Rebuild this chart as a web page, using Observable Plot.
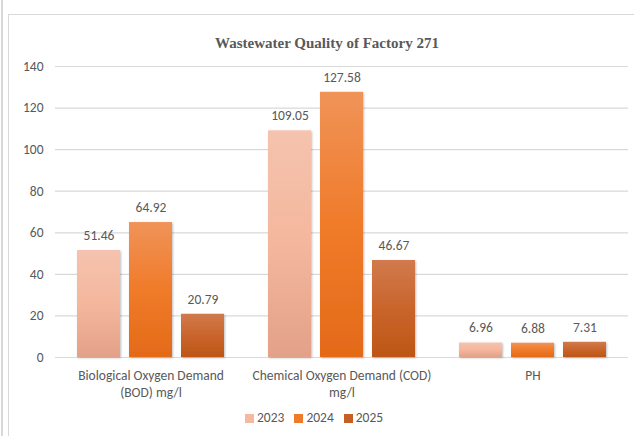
<!DOCTYPE html>
<html>
<head>
<meta charset="utf-8">
<script src="https://cdn.jsdelivr.net/npm/d3@7"></script>
<script src="https://cdn.jsdelivr.net/npm/@observablehq/plot@0.6"></script>
<style>
  html, body { margin: 0; padding: 0; background: #fff; }
  #wrap { position: relative; width: 634px; height: 436px; overflow: hidden; font-family: Carlito, Lato, "Open Sans", sans-serif; color: #595959; }
  #chart { position: absolute; left: 0; top: 0; }
  .vline { position: absolute; left: 1px; top: 0; width: 1.5px; height: 436px; background: #d9d9d9; }
  .box { position: absolute; left: 8px; top: 14px; width: 700px; height: 600px; border-top: 1.5px solid #d9d9d9; border-left: 1.5px solid #d9d9d9; }
  #title { position: absolute; left: 0; width: 654px; top: 35px; text-align: center; font-family: "Liberation Serif", "Times New Roman", serif; font-weight: bold; font-size: 15px; line-height: 16px; color: #595959; }
  #legend { position: absolute; left: 245px; top: 410px; display: flex; align-items: center; font-size: 13.5px; line-height: 16px; color: #595959; }
  #legend .item { display: flex; align-items: center; margin-right: 10px; }
  #legend .sw { width: 9px; height: 9px; margin-right: 3px; }
</style>
</head>
<body>
<div id="wrap">
  <div class="vline"></div>
  <div class="box"></div>
  <div id="chart"></div>
  <div id="title">Wastewater Quality of Factory 271</div>
  <div id="legend"></div>
</div>
<script>
const categories = ["BOD", "COD", "PH"];
const categoryLabels = ["Biological Oxygen Demand\n(BOD) mg/l", "Chemical Oxygen Demand (COD)\nmg/l", "PH"];
const years = ["2023", "2024", "2025"];
const values2023 = [51.46, 109.05, 6.96];
const values2024 = [64.92, 127.58, 6.88];
const values2025 = [20.79, 46.67, 7.31];
const yTicks = [0, 20, 40, 60, 80, 100, 120, 140];

const gradients = {
  "2023": ["#F5C3AE", "#F4B79D", "#E2A188"],
  "2024": ["#F09358", "#F07B2A", "#E36A18"],
  "2025": ["#D17A4D", "#C9652C", "#BD5616"]
};
const legendColors = {"2023": "#F4B9A0", "2024": "#EF7A2A", "2025": "#C65F24"};

const series = [values2023, values2024, values2025];
const data = [];
categories.forEach((c, i) => {
  years.forEach((y, j) => data.push({category: c, year: y, value: series[j][i]}));
});

const plot = Plot.plot({
  width: 634,
  height: 436,
  marginLeft: 55,
  marginRight: 6,
  marginTop: 66,
  marginBottom: 79,
  style: {fontFamily: "Carlito, Lato, 'Open Sans', sans-serif", fontSize: "13px", color: "#595959", background: "transparent", overflow: "visible"},
  fx: {domain: categories, padding: 0, label: null, axis: null},
  x: {domain: years, paddingInner: 0.17, paddingOuter: 0.39, axis: null},
  y: {domain: [0, 140], label: null},
  color: {type: "identity"},
  marks: [
    Plot.gridY(yTicks, {stroke: "#d9d9d9", strokeOpacity: 1, strokeWidth: 1.2}),
    Plot.axisY(yTicks, {tickSize: 0, tickPadding: 12, fontSize: 13.5, fill: "#595959", label: null}),
    Plot.axisFx({anchor: "bottom", tickSize: 0, tickPadding: 11, fontSize: 13.5, fill: "#595959", lineHeight: 1.25, label: null,
      tickFormat: c => categoryLabels[categories.indexOf(c)]}),
    Plot.barY(data, {fx: "category", x: "year", y: "value", fill: d => `url(#grad${d.year})`}),
    Plot.text(data, {fx: "category", x: "year", y: "value", text: d => d.value.toFixed(2), dy: -15, fontSize: 13.5, fill: "#595959"})
  ]
});

const svg = d3.select(plot);
const defs = svg.insert("defs", ":first-child");
for (const y of years) {
  const g = defs.append("linearGradient").attr("id", `grad${y}`).attr("x1", 0).attr("y1", 0).attr("x2", 0).attr("y2", 1);
  g.append("stop").attr("offset", "0%").attr("stop-color", gradients[y][0]);
  g.append("stop").attr("offset", "50%").attr("stop-color", gradients[y][1]);
  g.append("stop").attr("offset", "100%").attr("stop-color", gradients[y][2]);
}
const f = defs.append("filter").attr("id", "shadow").attr("x", "-20%").attr("y", "-20%").attr("width", "140%").attr("height", "140%");
f.append("feDropShadow").attr("dx", 1).attr("dy", 1).attr("stdDeviation", 1.2).attr("flood-color", "#000").attr("flood-opacity", 0.25);
svg.selectAll("g[aria-label='bar'] rect").attr("filter", "url(#shadow)");

document.getElementById("chart").appendChild(plot);

const legend = d3.select("#legend");
for (const y of years) {
  const it = legend.append("div").attr("class", "item");
  it.append("div").attr("class", "sw").style("background", legendColors[y]);
  it.append("span").text(y);
}
</script>
</body>
</html>
